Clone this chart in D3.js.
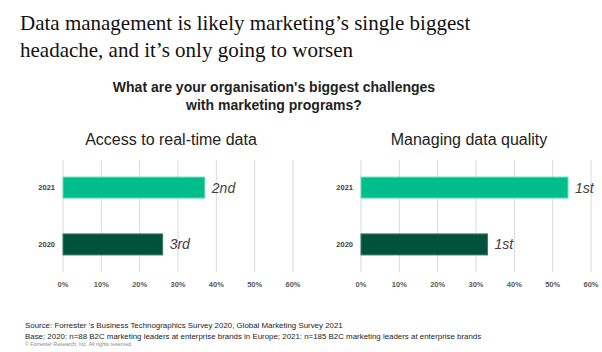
<!DOCTYPE html>
<html lang="en">
<head>
    <meta charset="UTF-8">
    <title>Marketing challenges</title>
    <script src="https://d3js.org/d3.v7.min.js"></script>
    <style>
        body { margin: 0; background: #fff; }
        text { font-family: "Liberation Sans", Arial, sans-serif; }
    </style>
</head>
<body>
<script>
    const width  = 602;
    const height = 352;

    // data
    const years = ["2021", "2020"];
    const panels = ["Access to real-time data", "Managing data quality"];
    const realTime = [37, 26];
    const dataQuality = [54, 33];
    const realTimeRanks = ["2nd", "3rd"];
    const dataQualityRanks = ["1st", "1st"];
    const ticks = [0, 10, 20, 30, 40, 50, 60];

    const titleLines = ["Data management is likely marketing\u2019s single biggest",
                        "headache, and it\u2019s only going to worsen"];
    const questionLines = ["What are your organisation's biggest challenges",
                           "with marketing programs?"];
    const footLines = ["Source: Forrester \u2019s Business Technographics Survey 2020, Global Marketing Survey 2021",
                       "Base: 2020: n=88 B2C marketing leaders at enterprise brands in Europe; 2021: n=185 B2C marketing leaders at enterprise brands"];
    const copyright = "\u00a9 Forrester Research, Inc. All rights reserved.";

    const colors = {"2021": "#00be8c", "2020": "#00523a"};
    const strokes = {"2021": "#6fdcbc", "2020": "#3d7d66"};

    const svg = d3.select("body").append("svg").attr("width", width).attr("height", height);

    svg.selectAll(".title")
        .data(titleLines)
        .enter()
        .append("text")
        .attr("x", 20)
        .attr("y", (d, i) => 30 + i * 27)
        .style("font-family", "'Liberation Serif', 'Times New Roman', serif")
        .style("font-size", "21px")
        .attr("fill", "#111")
        .text(d => d);

    svg.selectAll(".question")
        .data(questionLines)
        .enter()
        .append("text")
        .attr("x", 274)
        .attr("y", (d, i) => 92 + i * 18)
        .attr("text-anchor", "middle")
        .style("font-size", "14px")
        .style("font-weight", "bold")
        .attr("fill", "#222")
        .text(d => d);

    const panelData = [
        {name: panels[0], values: realTime, ranks: realTimeRanks, x0: 63, labelX: 55, titleX: 171},
        {name: panels[1], values: dataQuality, ranks: dataQualityRanks, x0: 361, labelX: 353, titleX: 469}
    ];

    const y = d3.scaleBand()
                .domain(years)
                .range([160, 272])
                .paddingInner(0.63)
                .paddingOuter(0.3);

    panelData.forEach(p => {
        const x = d3.scaleLinear().domain([0, 60]).range([p.x0, p.x0 + 230]);
        const g = svg.append("g");

        g.append("text")
            .attr("x", p.titleX)
            .attr("y", 145)
            .attr("text-anchor", "middle")
            .style("font-size", "16px")
            .attr("fill", "#222")
            .text(p.name);

        g.selectAll(".grid")
            .data(ticks)
            .enter()
            .append("line")
            .attr("x1", d => x(d))
            .attr("x2", d => x(d))
            .attr("y1", 160)
            .attr("y2", 272)
            .attr("stroke", "#d9d9d9")
            .attr("stroke-width", 1);

        g.selectAll(".tick")
            .data(ticks)
            .enter()
            .append("text")
            .attr("x", d => x(d))
            .attr("y", 287)
            .attr("text-anchor", "middle")
            .style("font-size", "7.5px")
            .style("font-weight", "bold")
            .attr("fill", "#595959")
            .text(d => d + "%");

        g.selectAll(".bar")
            .data(years)
            .enter()
            .append("rect")
            .attr("x", x(0))
            .attr("y", d => y(d))
            .attr("width", (d, i) => x(p.values[i]) - x(0))
            .attr("height", y.bandwidth())
            .attr("fill", d => colors[d])
            .attr("stroke", d => strokes[d])
            .attr("stroke-width", 1);

        g.selectAll(".cat")
            .data(years)
            .enter()
            .append("text")
            .attr("x", p.labelX)
            .attr("y", d => y(d) + y.bandwidth() / 2 + 2.5)
            .attr("text-anchor", "end")
            .style("font-size", "7.5px")
            .style("font-weight", "bold")
            .attr("fill", "#404040")
            .text(d => d);

        g.selectAll(".rank")
            .data(years)
            .enter()
            .append("text")
            .attr("x", (d, i) => x(p.values[i]) + 7)
            .attr("y", d => y(d) + y.bandwidth() / 2 + 5)
            .style("font-size", "14px")
            .style("font-style", "italic")
            .attr("fill", "#404040")
            .text((d, i) => p.ranks[i]);
    });

    svg.selectAll(".foot")
        .data(footLines)
        .enter()
        .append("text")
        .attr("x", 25)
        .attr("y", (d, i) => 328 + i * 10.5)
        .style("font-size", "7.9px")
        .attr("fill", "#222")
        .text(d => d);

    svg.append("text")
        .attr("x", 25)
        .attr("y", 346)
        .style("font-size", "5.3px")
        .attr("fill", "#888")
        .text(copyright);
</script>
</body>
</html>
